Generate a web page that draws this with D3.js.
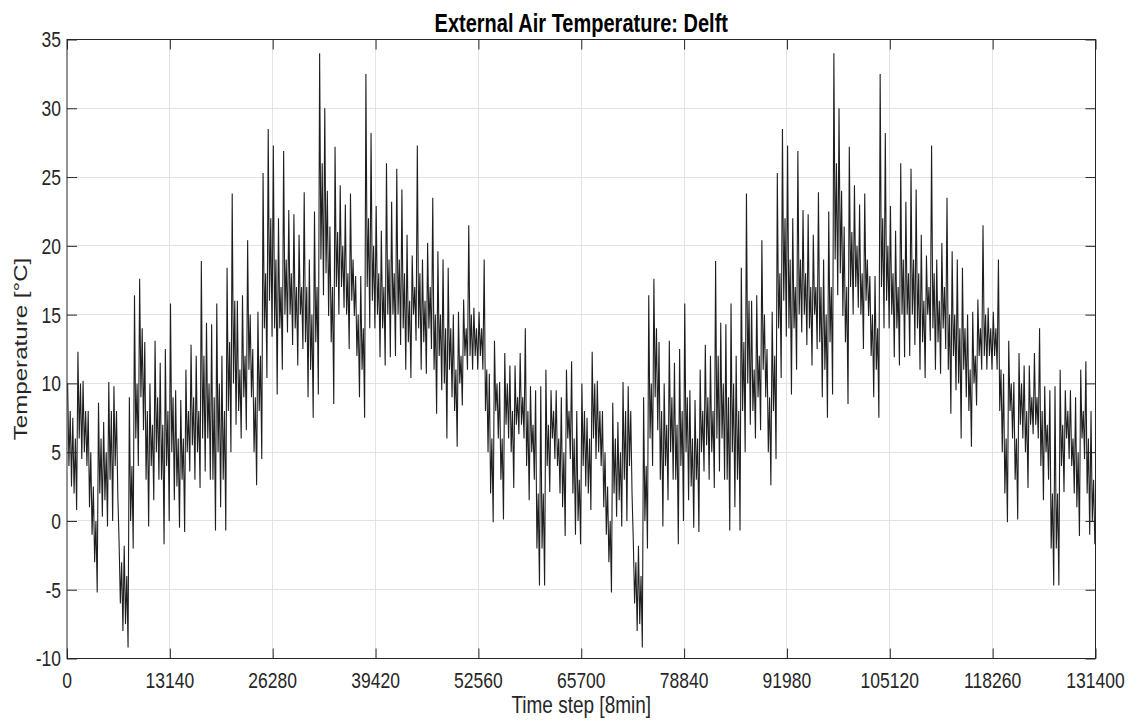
<!DOCTYPE html>
<html>
<head>
<meta charset="utf-8">
<script src="https://cdn.jsdelivr.net/npm/d3@7"></script>
<style>
	html, body { margin:0; padding:0; background:#fff; }
	svg { display:block; font-family:"Liberation Sans", Arial, sans-serif; }
</style>
</head>
<body>
<div id="chart"></div>
<script>
// one year of 8-minute steps per block of 657 steps:
// the spike extremes (high/low) and the dark core band (coreHigh/coreLow)
var blockSize = 657;
var yearOffsets = [0, 65700];   // the picture repeats the same year twice

var blockHigh = [10, 7.5, 12.3, 10.2, 8, 2.5, 8.6, 7.2, 10.1, 9.8,
	-1.5, -1.8, 9, 16.4, 17.6, 13, 10, 13.1, 11.5, 12.5,
	15.8, 9.5, 8.8, 11, 12.8, 12, 18.9, 14.4, 14.3, 15.8,
	12, 18.4, 23.8, 16, 16.4, 20.4, 12.5, 15.2, 25.3, 28.5,
	27.3, 22, 26.9, 22.6, 22.3, 20.8, 23.9, 19, 22.5, 34,
	30, 21.4, 27.2, 24.4, 23, 23.8, 17.8, 17.8, 32.5, 28.2,
	22.9, 21.1, 26, 23.2, 25.6, 24.1, 20.8, 19.3, 27.3, 19,
	20.2, 23.5, 19.6, 19, 18.4, 15, 15.2, 16.1, 21.5, 15.5,
	15.2, 19, 10.7, 13.1, 10.1, 12.2, 11.3, 11.3, 12.2, 14,
	9.8, 9.5, 9.8, 11, 9.5, 9.5, 9, 11, 11.6, 8];
var blockLow = [2.5, 0.8, 4.5, 4, -1, -5.2, 0.3, -0.4, 0, 2,
	-8, -9.2, -2, 4, 6.6, -0.4, 1.5, 3, -1.7, 0,
	1.5, -0.5, -0.8, 3.6, 3, 2.4, 3.6, 3, -0.7, 1,
	-0.7, 5, 7, 6, 6.6, 9, 2.6, 4.5, 10.4, 13.4,
	9.2, 11, 13.7, 12.8, 11.3, 12.5, 9, 7.5, 9.2, 16.4,
	14.9, 8.5, 15, 15.5, 12.5, 14.9, 9, 7.5, 14, 14,
	11.9, 11.3, 11.9, 12, 12.8, 11, 10.4, 13.1, 11, 10.7,
	12.5, 7.8, 9.5, 6, 9, 5.4, 8.4, 11, 11, 11,
	11, 5, -0.1, 6, 0.1, 6, 2.4, 6.3, 6, 1.5,
	3, -4.7, -4.7, 2.1, 4.5, 2, -1.1, 4.5, -1, -1.7];
var coreHigh = [8, 6, 10, 8, 5, 0, 6, 5, 8, 8,
	-3, -4, 4, 10, 14, 8, 7, 9, 7, 8,
	9, 6, 6, 8, 9, 8, 12, 10, 9, 10,
	8, 13, 16, 11, 12, 15, 9, 12, 18, 22,
	19, 17, 19, 18, 17, 17, 17, 15, 17, 26,
	24, 17, 21, 20, 18, 19, 15, 14, 22, 20,
	18, 17, 19, 18, 19, 18, 16, 17, 18, 16,
	17, 15, 15, 14, 14, 11, 12, 14, 15, 14,
	14, 11, 6, 10, 6, 10, 8, 9, 9, 8,
	7, 2, 2, 7, 8, 6, 5, 8, 6, 3];
var coreLow = [4, 2, 6, 5, 1, -3, 2, 1.5, 3, 4,
	-6, -7.5, 0, 6, 9, 3, 4, 5, 3, 4,
	5, 2.5, 3, 5, 5.5, 5, 6, 6, 3, 5,
	3, 8, 10, 8, 9, 11, 5, 8, 14, 16,
	14, 14, 15, 15, 14, 15, 13, 11, 13, 19,
	18, 13, 17, 17, 15, 16, 12, 11, 17, 16,
	15, 14, 15, 15, 15, 14, 13, 15, 14, 13,
	14, 11, 12, 10, 11, 8, 10, 12, 12, 12,
	12, 8, 2, 8, 3, 7, 5, 7, 7, 4,
	5, -2, -2, 4, 6, 4, 1, 6, 2, 0];

var xTicks = [0, 13140, 26280, 39420, 52560, 65700, 78840, 91980, 105120, 118260, 131400];
var yTicks = [-10, -5, 0, 5, 10, 15, 20, 25, 30, 35];

var titleText = "External Air Temperature: Delft";
var xLabelText = "Time step [8min]";
var yLabelText = "Temperature [°C]";

var W = 1134, H = 722;
var plot = {l:67, r:1095.5, t:39.5, b:658.5};
var stretch = 1.27;   // text in the source is drawn taller than it is wide
var axisColor = "#262626";
var gridColor = "#e3e3e3";

var svg = d3.select("#chart").append("svg")
	.attr("width", W)
	.attr("height", H);

var xScale = d3.scaleLinear()
	.domain([0, 131400])
	.range([plot.l, plot.r]);
var yScale = d3.scaleLinear()
	.domain([-10, 35])
	.range([plot.b, plot.t]);

// build the series: high, core low, core high, low inside each block, for both years
var series = [];
yearOffsets.forEach(function(off) {
	blockHigh.forEach(function(h, i) {
		var t0 = off + i*blockSize;
		series.push([t0 + blockSize*0.125, h]);
		series.push([t0 + blockSize*0.375, coreLow[i]]);
		series.push([t0 + blockSize*0.625, coreHigh[i]]);
		series.push([t0 + blockSize*0.875, blockLow[i]]);
	});
});

// grid
var grid = svg.append("g").attr("class", "grid")
	.attr("stroke", gridColor)
	.attr("stroke-width", 1)
	.attr("shape-rendering", "crispEdges");
grid.selectAll("line.gx").data(xTicks.slice(1, -1)).enter()
	.append("line").attr("class", "gx")
	.attr("x1", d=>xScale(d)).attr("x2", d=>xScale(d))
	.attr("y1", plot.t).attr("y2", plot.b);
grid.selectAll("line.gy").data(yTicks.slice(1, -1)).enter()
	.append("line").attr("class", "gy")
	.attr("x1", plot.l).attr("x2", plot.r)
	.attr("y1", d=>yScale(d)).attr("y2", d=>yScale(d));

// data line
var line = d3.line().x(d=>xScale(d[0])).y(d=>yScale(d[1]));
svg.append("path")
	.datum(series)
	.attr("d", line)
	.attr("fill", "none")
	.attr("stroke", "#000")
	.attr("stroke-opacity", 0.88)
	.attr("stroke-width", 1.1)
	.attr("stroke-linejoin", "bevel");

// axes, ticks inward on all four sides
var tickLen = 10;
var xAxisB = d3.axisBottom(xScale).tickValues(xTicks).tickSize(-tickLen).tickFormat("");
var xAxisT = d3.axisTop(xScale).tickValues(xTicks).tickSize(-tickLen).tickFormat("");
var yAxisL = d3.axisLeft(yScale).tickValues(yTicks).tickSize(-tickLen).tickFormat("");
var yAxisR = d3.axisRight(yScale).tickValues(yTicks).tickSize(-tickLen).tickFormat("");

function styleAxis(g) {
	g.selectAll(".domain").remove();
	g.selectAll("line").attr("stroke", axisColor).attr("stroke-width", 1);
}
svg.append("g").attr("transform", "translate(0," + plot.b + ")").call(xAxisB).call(styleAxis);
svg.append("g").attr("transform", "translate(0," + plot.t + ")").call(xAxisT).call(styleAxis);
svg.append("g").attr("transform", "translate(" + plot.l + ",0)").call(yAxisL).call(styleAxis);
svg.append("g").attr("transform", "translate(" + plot.r + ",0)").call(yAxisR).call(styleAxis);

svg.append("rect")
	.attr("x", plot.l).attr("y", plot.t)
	.attr("width", plot.r - plot.l).attr("height", plot.b - plot.t)
	.attr("fill", "none")
	.attr("stroke", axisColor)
	.attr("stroke-width", 1);

// tick labels
svg.append("g").selectAll("text").data(xTicks).enter()
	.append("text")
	.attr("transform", d=>"translate(" + xScale(d) + ",687.5) scale(1," + stretch + ")")
	.attr("text-anchor", "middle")
	.attr("fill", axisColor)
	.style("font-size", "17.5px")
	.text(d=>d);
svg.append("g").selectAll("text").data(yTicks).enter()
	.append("text")
	.attr("transform", d=>"translate(61," + (yScale(d) + 7.9) + ") scale(1," + stretch + ")")
	.attr("text-anchor", "end")
	.attr("fill", axisColor)
	.style("font-size", "17.5px")
	.text(d=>d);

// title and axis labels
svg.append("text")
	.attr("transform", "translate(" + ((plot.l + plot.r)/2) + ",31.5) scale(1," + stretch + ")")
	.attr("text-anchor", "middle")
	.attr("fill", "#000")
	.style("font-size", "20px")
	.style("font-weight", "bold")
	.text(titleText);
svg.append("text")
	.attr("transform", "translate(" + ((plot.l + plot.r)/2) + ",713) scale(1," + stretch + ")")
	.attr("text-anchor", "middle")
	.attr("fill", axisColor)
	.style("font-size", "19px")
	.text(xLabelText);
svg.append("text")
	.attr("transform", "translate(26.5," + ((plot.t + plot.b)/2) + ") scale(1," + stretch + ") rotate(-90)")
	.attr("text-anchor", "middle")
	.attr("fill", axisColor)
	.style("font-size", "19px")
	.text(yLabelText);
</script>
</body>
</html>
